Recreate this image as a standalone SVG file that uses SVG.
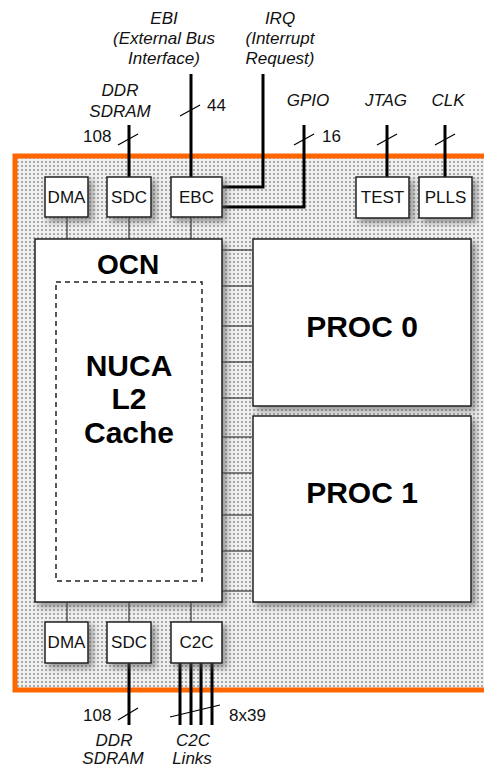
<svg xmlns="http://www.w3.org/2000/svg" width="484" height="769" viewBox="0 0 484 769">
<defs>
<pattern id="dots" width="4" height="4" patternUnits="userSpaceOnUse">
<rect width="4" height="4" fill="#f0f0f0"/>
<rect x="1" y="1" width="2" height="2" fill="#aaaaaa"/>
</pattern>
<filter id="sh" x="-20%" y="-20%" width="150%" height="150%">
<feDropShadow dx="4" dy="4" stdDeviation="3" flood-color="#555" flood-opacity="0.6"/>
</filter>
</defs>
<style>
.box{fill:#fff;stroke:#222;stroke-width:1.5;filter:url(#sh)}
.lbl{font-family:"Liberation Sans",Arial,sans-serif;font-size:17px;fill:#111;text-anchor:middle}
.big{font-family:"Liberation Sans",Arial,sans-serif;font-size:30px;font-weight:bold;fill:#000;text-anchor:middle}
.ext{font-family:"Liberation Sans",Arial,sans-serif;font-size:17px;font-style:italic;fill:#111;text-anchor:middle}
.num{font-family:"Liberation Sans",Arial,sans-serif;font-size:17px;fill:#111}
.thick{stroke:#000;stroke-width:3;fill:none}
.thin{stroke:#333;stroke-width:1.2;fill:none}
.sl{stroke:#000;stroke-width:1.2;fill:none}
</style>
<rect id="chip" x="15" y="156" width="490" height="534" fill="url(#dots)" stroke="#FF6600" stroke-width="5"/>
<g id="connectors">
<line class="thin" x1="67" y1="217" x2="67" y2="239"/>
<line class="thin" x1="129" y1="217" x2="129" y2="239"/>
<line class="thin" x1="191" y1="217" x2="191" y2="239"/>
<line class="thin" x1="67" y1="602" x2="67" y2="622"/>
<line class="thin" x1="129" y1="602" x2="129" y2="622"/>
<line class="thin" x1="191" y1="602" x2="191" y2="622"/>
<g class="thin">
<line x1="222" y1="250" x2="252" y2="250"/>
<line x1="222" y1="286" x2="252" y2="286"/>
<line x1="222" y1="326" x2="252" y2="326"/>
<line x1="222" y1="362" x2="252" y2="362"/>
<line x1="222" y1="398" x2="252" y2="398"/>
<line x1="222" y1="437" x2="252" y2="437"/>
<line x1="222" y1="473" x2="252" y2="473"/>
<line x1="222" y1="515" x2="252" y2="515"/>
<line x1="222" y1="551" x2="252" y2="551"/>
<line x1="222" y1="591" x2="252" y2="591"/>
</g>
<line class="thick" x1="129" y1="125" x2="129" y2="177"/>
<line class="sl" x1="118" y1="145" x2="138" y2="134"/>
<line class="thick" x1="191" y1="74" x2="191" y2="177"/>
<line class="sl" x1="180" y1="116" x2="200" y2="105"/>
<polyline class="thick" points="263,74 263,187 222,187"/>
<polyline class="thick" points="304,125 304,207 222,207"/>
<line class="sl" x1="294" y1="145" x2="314" y2="134"/>
<line class="thick" x1="387" y1="125" x2="387" y2="177"/>
<line class="sl" x1="377" y1="145" x2="397" y2="134"/>
<line class="thick" x1="445" y1="125" x2="445" y2="177"/>
<line class="sl" x1="435" y1="145" x2="455" y2="134"/>
<line class="thick" x1="129" y1="663" x2="129" y2="725"/>
<line class="sl" x1="118" y1="720" x2="138" y2="708"/>
<line class="thick" x1="180" y1="663" x2="180" y2="725"/>
<line class="thick" x1="191" y1="663" x2="191" y2="725"/>
<line class="thick" x1="201" y1="663" x2="201" y2="725"/>
<line class="thick" x1="212" y1="663" x2="212" y2="725"/>
<line class="sl" x1="170" y1="717" x2="220" y2="705"/>
</g>
<g id="dma1"><rect class="box" x="45" y="177" width="43" height="40"/><text class="lbl" x="66.5" y="203">DMA</text></g>
<g id="sdc1"><rect class="box" x="107" y="177" width="44" height="40"/><text class="lbl" x="129" y="203">SDC</text></g>
<g id="ebc"><rect class="box" x="171" y="177" width="51" height="40"/><text class="lbl" x="196.5" y="203">EBC</text></g>
<g id="test"><rect class="box" x="356" y="177" width="53" height="41"/><text class="lbl" x="382.5" y="203">TEST</text></g>
<g id="plls"><rect class="box" x="419" y="177" width="53" height="41"/><text class="lbl" x="445.5" y="203">PLLS</text></g>
<g id="ocn">
<rect class="box" x="35" y="239" width="187" height="363"/>
<text class="big" x="128" y="274" style="font-size:28px">OCN</text>
<rect x="56" y="282" width="146" height="299" fill="none" stroke="#222" stroke-width="1.5" stroke-dasharray="5,4"/>
<text class="big" x="129" y="376">NUCA</text>
<text class="big" x="129" y="409">L2</text>
<text class="big" x="129" y="443">Cache</text>
</g>
<g id="proc0"><rect class="box" x="253" y="239" width="218" height="167"/><text class="big" x="362" y="337">PROC 0</text></g>
<g id="proc1"><rect class="box" x="253" y="416" width="218" height="186"/><text class="big" x="362" y="503">PROC 1</text></g>
<g id="dma2"><rect class="box" x="45" y="622" width="43" height="41"/><text class="lbl" x="66.5" y="648">DMA</text></g>
<g id="sdc2"><rect class="box" x="107" y="622" width="44" height="41"/><text class="lbl" x="129" y="648">SDC</text></g>
<g id="c2c"><rect class="box" x="171" y="622" width="51" height="41"/><text class="lbl" x="196.5" y="648">C2C</text></g>
<g id="labels">
<text class="ext" x="164" y="24">EBI</text>
<text class="ext" x="164" y="44">(External Bus</text>
<text class="ext" x="164" y="64">Interface)</text>
<text class="ext" x="280" y="24">IRQ</text>
<text class="ext" x="280" y="44">(Interrupt</text>
<text class="ext" x="280" y="64">Request)</text>
<text class="ext" x="120" y="96">DDR</text>
<text class="ext" x="120" y="117">SDRAM</text>
<text class="ext" x="308" y="106">GPIO</text>
<text class="ext" x="386" y="106">JTAG</text>
<text class="ext" x="448" y="106">CLK</text>
<text class="num" x="83" y="142">108</text>
<text class="num" x="207" y="111">44</text>
<text class="num" x="322" y="142">16</text>
<text class="num" x="83" y="721">108</text>
<text class="num" x="229" y="721">8x39</text>
<text class="ext" x="114" y="746">DDR</text>
<text class="ext" x="113" y="764">SDRAM</text>
<text class="ext" x="193" y="746">C2C</text>
<text class="ext" x="192" y="764">Links</text>
</g>
</svg>
